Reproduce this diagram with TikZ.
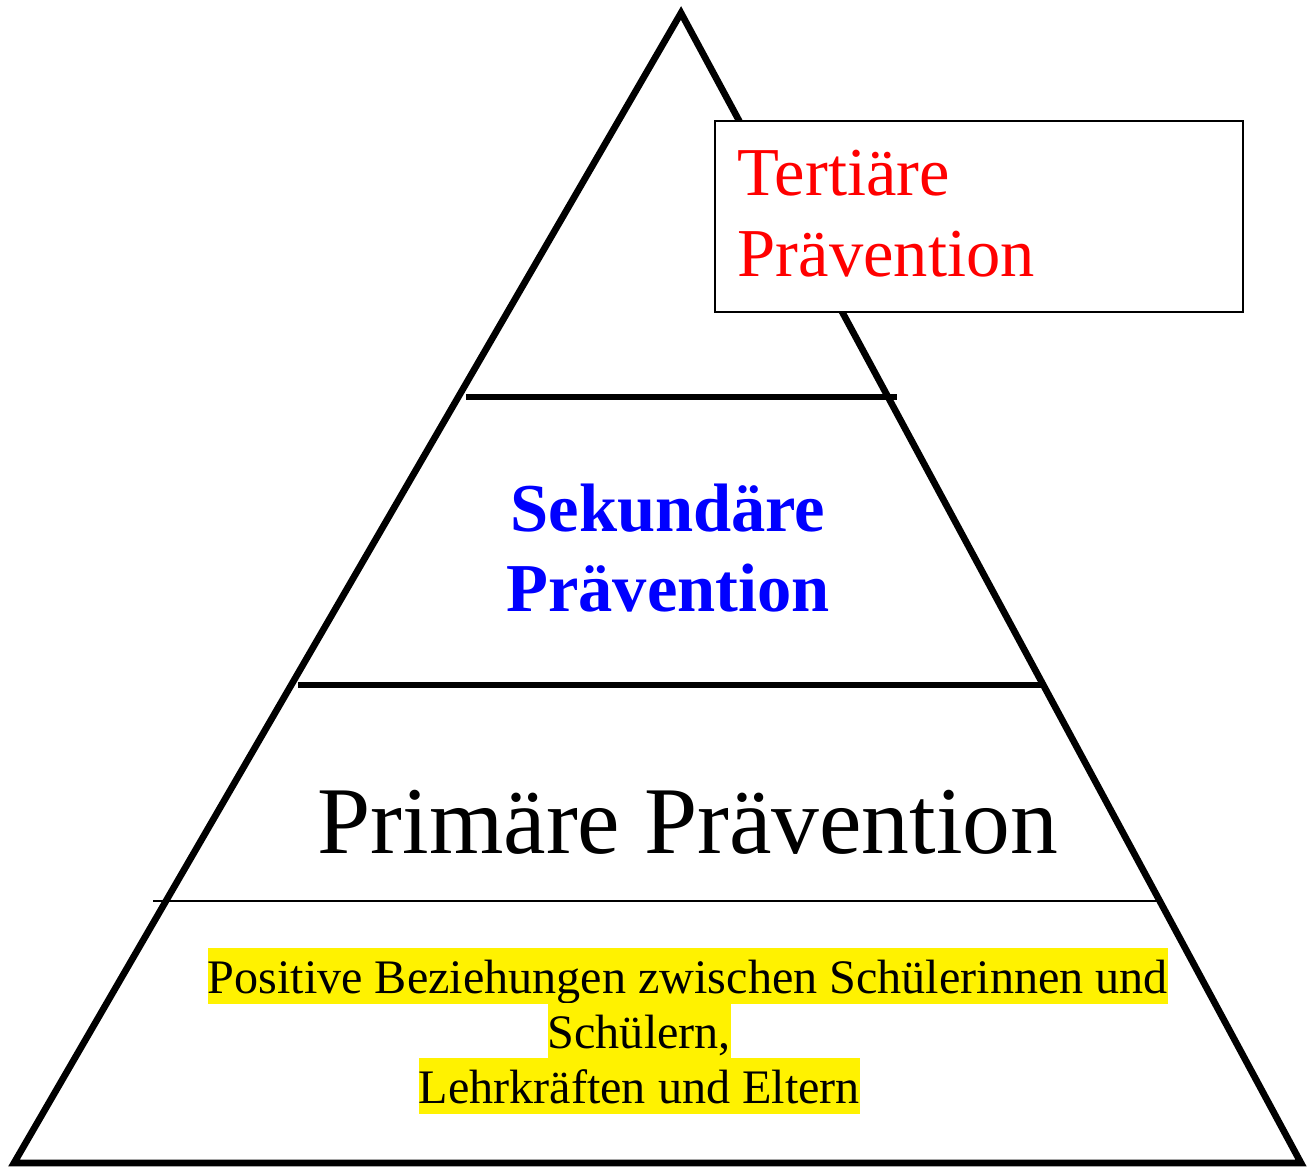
\documentclass[tikz,border=0pt]{standalone}
\usepackage{fontspec}
\setmainfont{Liberation Serif}
\usepackage{tikz}

\begin{document}
\begin{tikzpicture}

    % Fix the page size
    \useasboundingbox (0,0) rectangle (13.14,11.66);

    % Draw the pyramid
    \draw[line width=1.9pt] (0.14,0.03) -- (13.01,0.03) -- (6.81,11.53) -- cycle;

    % Draw the dividing lines
    \draw[line width=1.5pt] (4.66,7.69) -- (8.97,7.69);
    \draw[line width=1.5pt] (2.98,4.81) -- (10.43,4.81);
    \draw[line width=0.4pt] (1.53,2.65) -- (11.60,2.65);

    % Box for the top level
    \draw[line width=0.6pt, fill=white] (7.15,10.45) rectangle (12.43,8.54);
    \node[anchor=base west, inner sep=0pt, text=red, align=left,
          font=\fontsize{19.5}{23.3}\selectfont] (tertiaer) at (7.37,8.89)
        {Tertiäre\\Prävention};

    % Label the levels
    \node[anchor=base, inner sep=0pt, text=blue, align=center,
          font=\fontsize{19.5}{22.8}\selectfont\bfseries] (sekundaer) at (6.68,5.54)
        {Sekundäre\\Prävention};
    \node[anchor=base, inner sep=0pt,
          font=\fontsize{27.2}{30}\selectfont] (primaer) at (6.88,3.13)
        {Primäre Prävention};

    % Highlighted base text
    \tikzset{marker/.style={anchor=base west, inner sep=0pt, fill=yellow,
        text height=12.8pt, text depth=3.1pt, font=\fontsize{13.7}{15.6}\selectfont}}
    \node[marker] (basis1) at (2.07,1.73) {Positive Beziehungen zwischen Schülerinnen und};
    \node[marker] (basis2) at (5.47,1.18) {Schülern,};
    \node[marker] (basis3) at (4.18,0.63) {Lehrkräften und Eltern};

\end{tikzpicture}
\end{document}
